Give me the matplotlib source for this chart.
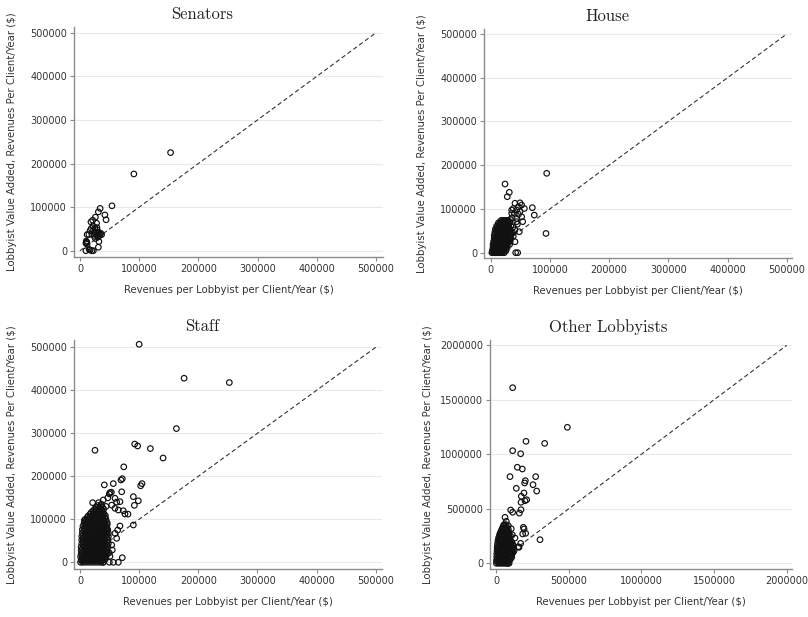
import matplotlib
matplotlib.use("Agg")
import matplotlib.pyplot as plt
from matplotlib.ticker import FuncFormatter

plt.rcParams.update({
    "font.family": "DejaVu Sans",
    "font.size": 7,
    "axes.edgecolor": "#8c8c8c",
    "xtick.color": "#8c8c8c",
    "ytick.color": "#8c8c8c",
    "xtick.labelcolor": "#333333",
    "ytick.labelcolor": "#333333",
})

W, H = 808, 617

# ---- data ----
sen_x = [153000, 91000, 54000, 34000, 31000, 42000, 44000, 26000, 21500, 18500,
         28000, 22000, 25000, 28500, 19000, 22500, 17000, 12000, 15000, 20000,
         25000, 28000, 31000, 33000, 35000, 36500, 31000, 30000, 32000, 31000,
         10500, 11500, 10000, 12000, 10000, 15500, 20000, 22500, 17000, 26000,
         24000, 29000, 33500, 30500, 27000, 11000]
sen_y = [225000, 176000, 103000, 97000, 89000, 82000, 71000, 77000, 70000, 66000,
         63000, 57000, 51500, 53000, 51000, 46000, 46000, 37000, 37000, 38000,
         40000, 36000, 42000, 38000, 40000, 37000, 34000, 31000, 21000, 8000,
         22000, 19000, 17000, 15000, 0, 3000, 0, 0, 1500, 28000,
         33000, 48000, 35000, 39000, 43000, 20000]

house_out_x = [94600, 24200, 31400, 28000, 70300, 73600, 56800, 41000, 49500, 52300,
               46700, 43900, 35500, 38200, 35500, 49500, 52300, 43900, 54000, 48300,
               41000, 38200, 43900, 38200, 42200, 45600, 93400, 47000, 40000, 36000,
               33000, 45000, 41000, 37000]
house_out_y = [181500, 157000, 138000, 128000, 103000, 86000, 101000, 113000, 114000, 109000,
               105000, 97600, 97600, 101000, 90000, 94000, 82000, 78500, 71000, 48000,
               25000, 38000, 71000, 59000, 0, 0, 44000, 88000, 90000, 80000,
               76000, 65000, 52000, 46000]
# dense cloud: value added (thousands) -> revenues (thousands)
house_blob_rows = {
    0: [2, 5, 8, 11, 14, 17, 20, 23],
    2: [3, 6, 9, 13, 17, 21],
    5: [3, 7, 11, 15, 19, 23, 26],
    9: [4, 6, 9, 13, 17, 21, 25],
    12: [4, 8, 12, 16, 20, 24, 28],
    16: [5, 6, 10, 14, 18, 22, 26],
    19: [4, 8, 12, 16, 20, 24, 28, 32],
    23: [6, 10, 14, 18, 22, 26, 30],
    26: [5, 9, 13, 17, 21, 25, 29, 33],
    30: [7, 11, 15, 19, 23, 27, 31],
    33: [6, 10, 14, 18, 22, 26, 30, 34],
    37: [8, 12, 16, 20, 24, 28, 32],
    40: [6, 10, 14, 18, 22, 26, 30, 34],
    44: [8, 12, 16, 20, 24, 28, 32],
    47: [7, 11, 15, 19, 23, 27, 31, 35],
    51: [9, 13, 17, 21, 25, 29, 33],
    54: [8, 12, 16, 20, 24, 28, 32],
    58: [11, 15, 19, 23, 27, 31],
    61: [10, 14, 18, 22, 26, 30, 34],
    65: [14, 18, 22, 26, 30],
    68: [13, 17, 21, 25, 29, 32],
    71: [16, 20, 24, 28],
    74: [18, 22, 26, 30],
}

staff_out_x = [100000, 176000, 252500, 163000, 92500, 97500, 119000, 140500, 25400, 74000,
               71500, 69300, 104800, 102600, 41100, 56300, 50700, 53000, 49600, 70500,
               90200, 98600, 91900, 21400, 31500, 39400, 59200, 67600, 53600, 59200,
               64800, 73200, 76100, 90200, 67600, 62000, 63700, 59200, 53600, 54600,
               49600, 50700, 71500, 39400, 49600, 56300, 64800, 7300, 81200, 62000,
               44000, 36000, 28000, 47000]
staff_out_y = [507000, 428000, 418000, 311000, 275000, 270500, 264500, 242500, 260500, 222000,
               194500, 191400, 183000, 178000, 180000, 183000, 162000, 163000, 159000, 164000,
               152600, 143000, 132500, 138700, 138700, 145000, 148900, 141000, 133000, 125600,
               121600, 120000, 112300, 86800, 84400, 55800, 75000, 67400, 40200, 28600,
               22000, 14000, 10700, 0, 0, 0, 0, 97700, 112000, 140000,
               130000, 135000, 128000, 150000]
staff_blob_rows = {
    0: [1, 5, 10, 15, 20, 25, 30, 35, 39],
    3: [3, 8, 13, 18, 23, 28, 33, 37],
    6: [2, 7, 12, 17, 22, 27, 32, 37, 42],
    10: [4, 8, 13, 18, 23, 28, 33, 38, 42],
    13: [1, 5, 10, 15, 20, 25, 30, 35, 40, 44],
    16: [3, 8, 13, 18, 23, 28, 33, 38, 43],
    20: [2, 7, 12, 17, 22, 27, 32, 37, 42, 46],
    24: [4, 9, 14, 19, 24, 29, 34, 39, 44],
    28: [2, 6, 11, 16, 21, 26, 31, 36, 41, 46],
    32: [4, 9, 14, 19, 24, 29, 34, 39, 44],
    36: [2, 7, 12, 17, 22, 27, 32, 37, 42, 47],
    40: [5, 10, 15, 20, 25, 30, 35, 40, 45],
    44: [3, 8, 13, 18, 23, 28, 33, 38, 43, 48],
    48: [5, 10, 15, 20, 25, 30, 35, 40, 45],
    52: [3, 7, 12, 17, 22, 27, 32, 37, 42, 47],
    56: [5, 10, 15, 20, 25, 30, 35, 40, 45],
    60: [3, 8, 13, 18, 23, 28, 33, 38, 43, 48],
    64: [6, 11, 16, 21, 26, 31, 36, 41, 46],
    68: [4, 9, 14, 19, 24, 29, 34, 39, 44, 48],
    72: [6, 11, 16, 21, 26, 31, 36, 41, 46],
    76: [4, 8, 13, 18, 23, 28, 33, 38, 43, 47],
    80: [7, 11, 16, 21, 26, 31, 36, 41, 45],
    84: [5, 10, 15, 20, 25, 30, 35, 40, 45],
    88: [8, 12, 17, 22, 27, 32, 37, 42, 46],
    92: [7, 11, 16, 21, 26, 31, 36, 41, 46],
    96: [10, 14, 19, 24, 29, 34, 39, 43],
    100: [9, 14, 19, 24, 29, 34, 39, 44],
    104: [12, 17, 22, 27, 32, 37, 42],
    108: [14, 19, 24, 29, 34, 39, 43],
    112: [17, 22, 27, 32, 37, 41],
    116: [19, 24, 29, 34, 39],
    120: [22, 27, 32, 37],
    124: [25, 30, 35, 40],
    128: [27, 33, 38],
    132: [30, 36],
}

oth_out_x = [114700, 490800, 206400, 335000, 114700, 169700, 146800, 181000, 96300, 273000,
             201800, 197000, 254600, 139700, 280000, 192600, 174300, 172000, 211000, 199500,
             101000, 114700, 172000, 160600, 302700, 158700, 188000, 193000, 183500, 204000,
             62000, 71000, 84600, 105000, 112000, 130700, 77700, 153000, 170000]
oth_out_y = [1611000, 1247700, 1119000, 1100000, 1033000, 1005000, 881000, 865000, 795000, 795000,
             758000, 737000, 721000, 688000, 663000, 645000, 614600, 560000, 583000, 574000,
             489000, 468000, 492000, 461000, 216600, 147000, 330000, 315000, 269000, 275000,
             422000, 385000, 345000, 317000, 262000, 232000, 0, 152000, 183000]
oth_blob_rows = {
    0: [3, 18, 33, 48, 63, 78, 90],
    12: [10, 25, 40, 55, 70, 85],
    25: [3, 18, 33, 48, 63, 78, 93],
    40: [10, 25, 40, 55, 70, 85, 100],
    55: [5, 20, 35, 50, 65, 80, 95, 108],
    70: [12, 27, 42, 57, 72, 87, 102],
    85: [5, 20, 35, 50, 65, 80, 95, 110],
    100: [13, 28, 43, 58, 73, 88, 103, 117],
    115: [7, 22, 37, 52, 67, 82, 97, 112, 125],
    130: [15, 30, 45, 60, 75, 90, 105, 118],
    145: [8, 23, 38, 53, 68, 83, 98, 113],
    160: [16, 31, 46, 61, 76, 91, 106, 120],
    175: [10, 25, 40, 55, 70, 85, 100, 115],
    190: [18, 33, 48, 63, 78, 93, 108],
    205: [13, 28, 43, 58, 73, 88, 103],
    220: [20, 35, 50, 65, 80, 95],
    235: [18, 33, 48, 63, 78, 93],
    250: [25, 40, 55, 70, 85, 100],
    265: [25, 40, 55, 70, 85],
    280: [30, 45, 60, 75, 90],
    295: [35, 50, 65, 80],
    310: [40, 55, 70, 85],
    325: [45, 60, 75],
    340: [50, 65],
    355: [55, 70],
}


def expand(rows):
    xs, ys = [], []
    for yk, xk in rows.items():
        for v in xk:
            xs.append(v * 1000)
            ys.append(yk * 1000)
    return xs, ys


hx, hy = expand(house_blob_rows)
sx, sy = expand(staff_blob_rows)
ox, oy = expand(oth_blob_rows)

panels = [
    # title, x, y, max, axes box px (l, t, r, b), x anchors px, y anchors px, title centre
    ("Senators", sen_x, sen_y, 500000, (74, 27, 383, 257), (80, 376), (250.7, 32.7), 202),
    ("House", house_out_x + hx, house_out_y + hy, 500000, (484, 29.3, 792, 258.3),
     (490.7, 786.7), (252.7, 34), 608),
    ("Staff", staff_out_x + sx, staff_out_y + sy, 500000, (74, 339.7, 382, 569),
     (80, 375.7), (562.3, 347.3), 202),
    ("Other Lobbyists", oth_out_x + ox, oth_out_y + oy, 2000000, (490, 339.7, 792, 569),
     (496, 786.7), (563.3, 345.3), 608),
]

fig = plt.figure(figsize=(W / 100, H / 100), dpi=100)
fmt = FuncFormatter(lambda v, _: f"{v:.0f}")

for title, xs, ys, vmax, (l, t, r, b), (px0, px1), (py0, py1), tx in panels:
    ax = fig.add_axes([l / W, 1 - b / H, (r - l) / W, (b - t) / H])
    xs_ = vmax / (px1 - px0)
    ys_ = vmax / (py0 - py1)
    ax.set_xlim((l - px0) * xs_, (r - px0) * xs_)
    ax.set_ylim((py0 - b) * ys_, (py0 - t) * ys_)

    ticks = [vmax * i / 5 for i in range(6)] if vmax == 500000 else [0, 500000, 1000000, 1500000, 2000000]
    ax.set_xticks(ticks)
    ax.set_yticks(ticks)
    ax.xaxis.set_major_formatter(fmt)
    ax.yaxis.set_major_formatter(fmt)
    ax.tick_params(length=3, width=0.8, pad=2, labelsize=7)

    ax.grid(axis="y", color="#e9e9e9", linewidth=0.8)
    ax.set_axisbelow(True)
    for s in ("top", "right"):
        ax.spines[s].set_visible(False)
    ax.spines["left"].set_linewidth(1.0)
    ax.spines["bottom"].set_linewidth(1.0)

    ax.plot([0, vmax], [0, vmax], color="#333333", linewidth=0.8,
            dashes=(4, 2.5), zorder=2)
    ax.scatter(xs, ys, s=16, facecolors="none", edgecolors="#111111",
               linewidths=0.85, zorder=3)

    fig.text(tx / W, 1 - (t - 13) / H, title, fontfamily="cmr10", fontsize=12,
             ha="center", va="center", color="#222222")
    fig.text((l + r) / 2 / W, 1 - (b + 33) / H,
             "Revenues per Lobbyist per Client/Year ($)", fontsize=7.3,
             ha="center", va="center", color="#333333")
    fig.text((l - 62) / W, 1 - (t + b) / 2 / H,
             "Lobbyist Value Added, Revenues Per Client/Year ($)", fontsize=7.3,
             rotation=90, ha="center", va="center", color="#333333")

fig.savefig("out.png", dpi=100)
